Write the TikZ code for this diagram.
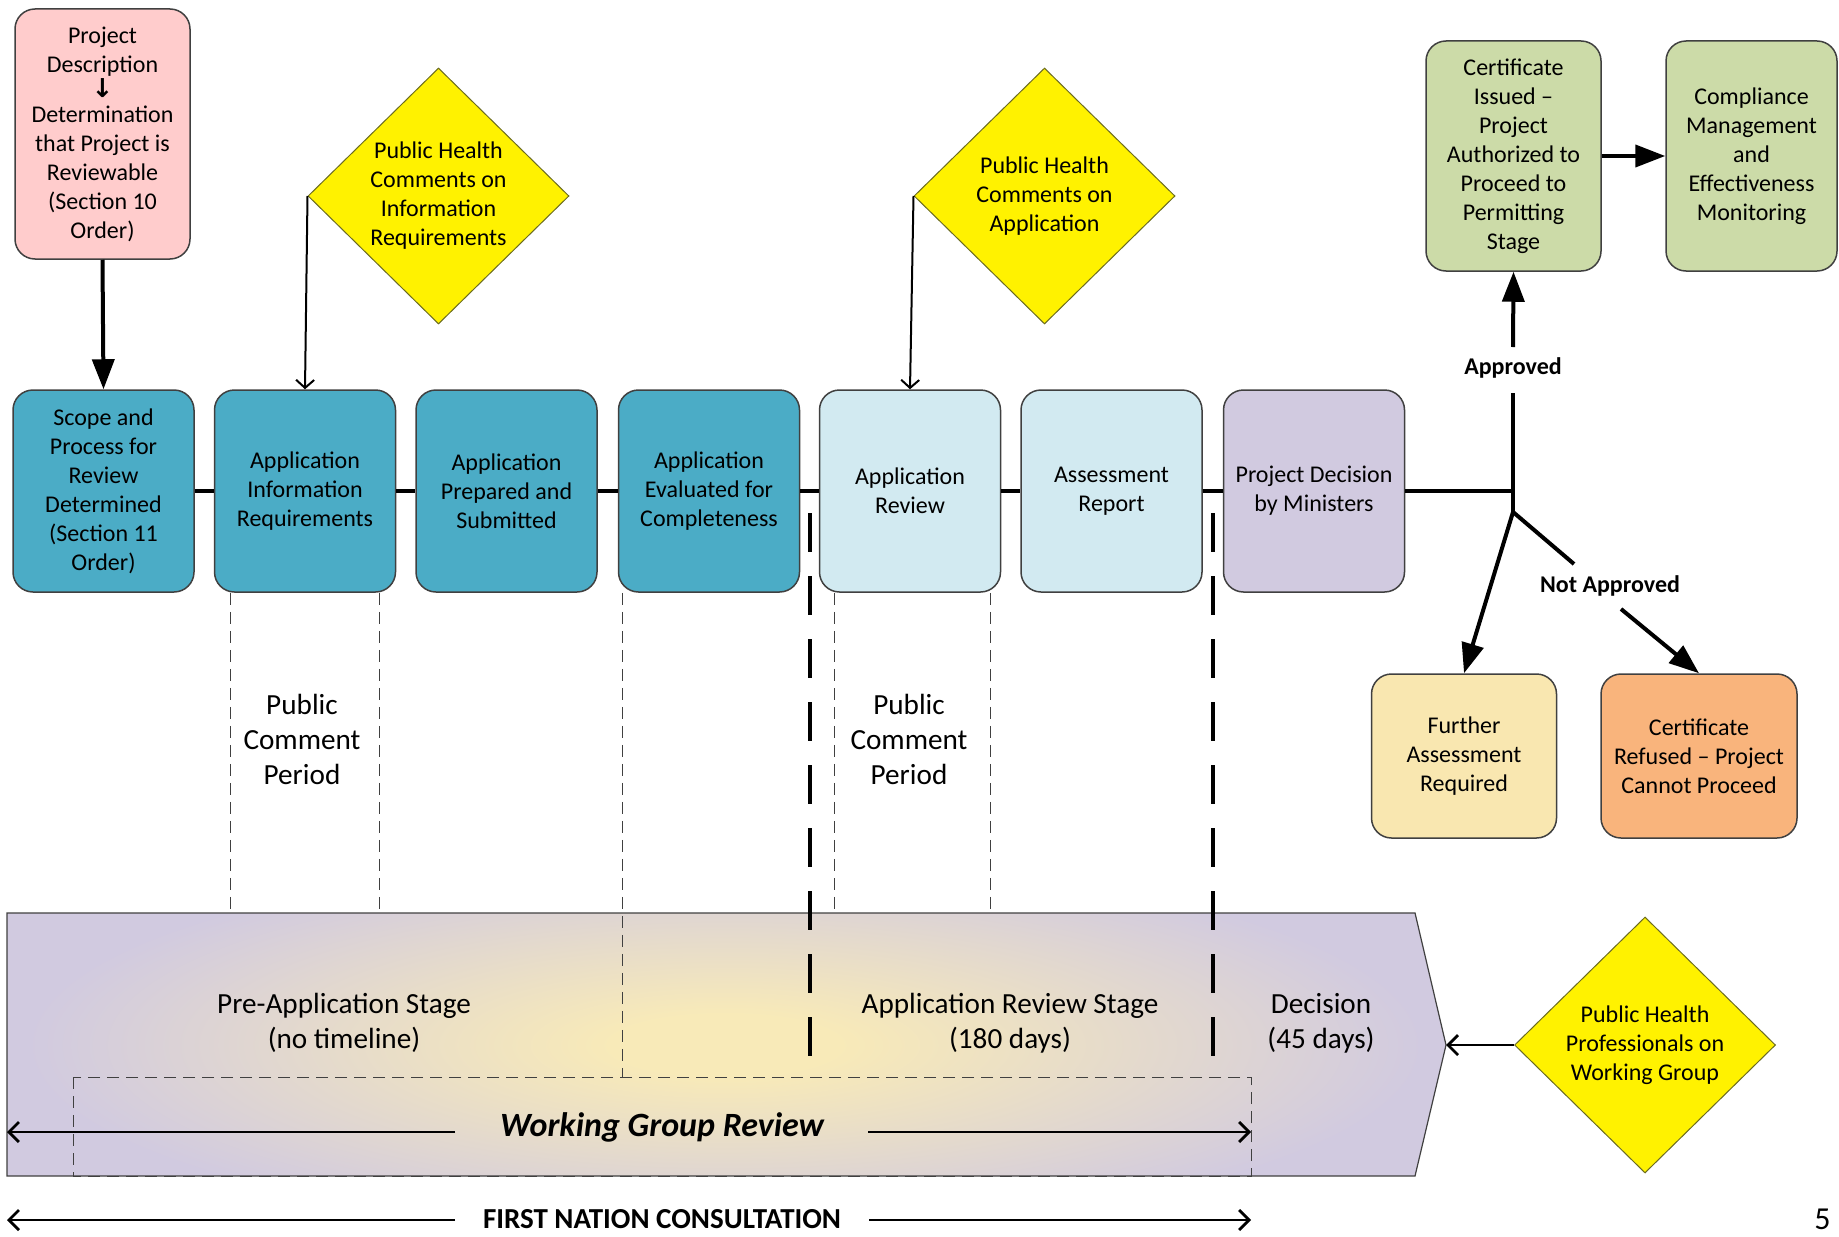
\documentclass[tikz,border=0pt]{standalone}
\usepackage{fontspec}
\setmainfont{Carlito}
\newfontfamily\dejavu{DejaVu Sans}
\usetikzlibrary{shapes.geometric,arrows.meta}

\definecolor{tealbox}{HTML}{4BACC6}
\definecolor{lightbox}{HTML}{D2EAF1}
\definecolor{purplebox}{HTML}{D1CAE0}
\definecolor{pinkbox}{HTML}{FFCCCC}
\definecolor{greenbox}{HTML}{CCDBA8}
\definecolor{paleyellow}{HTML}{F9E7B0}
\definecolor{orangebox}{HTML}{F9B47C}
\definecolor{glowY}{HTML}{F8EAB8}
\definecolor{edgegray}{HTML}{404040}
\definecolor{diaedge}{HTML}{6B6B20}

\pgfdeclareradialshading{bannerglow}{\pgfpoint{0bp}{0bp}}{color(0bp)=(glowY); color(4bp)=(glowY); color(25bp)=(purplebox); color(50bp)=(purplebox)}

\tikzset{
  box/.style={draw=edgegray, line width=0.75pt, rounded corners=10pt,
    minimum width=90.5pt, minimum height=101pt, align=center, inner sep=0pt,
    font=\fontsize{12}{14.5}\selectfont},
  dia/.style={shape=diamond, draw=diaedge, line width=0.5pt, fill=yellow,
    minimum width=130.5pt, minimum height=128pt, inner sep=0pt, align=center,
    font=\fontsize{12}{14.5}\selectfont},
  stagetext/.style={align=center, inner sep=0pt, font=\fontsize{14.6}{17.5}\selectfont},
  lbl/.style={inner sep=0pt, font=\fontsize{12}{14}\selectfont\bfseries},
  thickline/.style={line width=2pt},
  thickarrow/.style={line width=2pt, -{Triangle[length=15pt,width=11pt]}},
  thinarrow/.style={line width=1pt, -{Straight Barb[length=4pt,width=9pt]}},
  openarrow/.style={line width=1.4pt, -{Straight Barb[length=5pt,width=10pt]}},
  thindash/.style={line width=0.5pt, dash pattern=on 6pt off 3.5pt, edgegray},
  bigdash/.style={line width=1.8pt, dash pattern=on 19.5pt off 12pt},
}

\begin{document}
\begin{tikzpicture}[x=0.5pt, y=-0.5pt]
\useasboundingbox (0,0) rectangle (1839,1236);

% ---------- banner ----------
\begin{scope}
\clip (7,913) -- (1415,913) -- (1446,1045) -- (1415,1176) -- (7,1176) -- cycle;
\fill[purplebox] (0,900) rectangle (1460,1190);
\shade[shading=bannerglow] (725,1045) ellipse (700 and 190);
\end{scope}
\draw[edgegray, line width=0.6pt] (7,913) -- (1415,913) -- (1446,1045) -- (1415,1176) -- (7,1176) -- cycle;

% ---------- top nodes ----------
\node[box, fill=pinkbox, minimum width=87.5pt, minimum height=125pt] (pd) at (102.5,134)
  {Project\\Description\\[-2pt]{\dejavu\bfseries\fontsize{13}{12}\selectfont ↓}\\[-2pt]Determination\\that Project is\\Reviewable\\(Section 10\\Order)};

\node[box, fill=tealbox] (b1) at (103.5,491) {Scope and\\Process for\\Review\\Determined\\(Section 11\\Order)};
\node[box, fill=tealbox] (b2) at (305,491) {Application\\Information\\Requirements};
\node[box, fill=tealbox] (b3) at (506.5,491) {Application\\Prepared and\\Submitted};
\node[box, fill=tealbox] (b4) at (709,491) {Application\\Evaluated for\\Completeness};
\node[box, fill=lightbox] (b5) at (910,491) {Application\\Review};
\node[box, fill=lightbox] (b6) at (1111.5,491) {Assessment\\Report};
\node[box, fill=purplebox] (b7) at (1314,491) {Project Decision\\by Ministers};

\node[box, fill=greenbox, minimum width=87.5pt, minimum height=115pt] (g1) at (1513.5,156)
  {Certificate\\Issued –\\Project\\Authorized to\\Proceed to\\Permitting\\Stage};
\node[box, fill=greenbox, minimum width=85.5pt, minimum height=115pt] (g2) at (1751.5,156)
  {Compliance\\Management\\and\\Effectiveness\\Monitoring};
\node[box, fill=paleyellow, minimum width=92.5pt, minimum height=82pt] (further) at (1464,756)
  {Further\\Assessment\\Required};
\node[box, fill=orangebox, minimum width=98pt, minimum height=82pt] (refused) at (1699,756)
  {Certificate\\Refused – Project\\Cannot Proceed};

\node[dia] (ph1) at (438.5,196) {Public Health\\Comments on\\Information\\Requirements};
\node[dia] (ph2) at (1044.5,196) {Public Health\\Comments on\\Application};
\node[dia] (ph3) at (1645,1045) {Public Health\\Professionals on\\Working Group};

% ---------- main line and decision branch ----------
\draw[thickline] (b1.east) -- (b2.west);
\draw[thickline] (b2.east) -- (b3.west);
\draw[thickline] (b3.east) -- (b4.west);
\draw[thickline] (b4.east) -- (b5.west);
\draw[thickline] (b5.east) -- (b6.west);
\draw[thickline] (b6.east) -- (b7.west);

\coordinate (jn) at (1513,491);
\coordinate (split) at (1513,512);
\coordinate (apl) at (1513,393);
\coordinate (apu) at (1513,347);
\coordinate (na1) at (1574,564);
\coordinate (na2) at (1621,609);

\draw[thickline] (b7.east) -- (jn);
\draw[thickline] (apl) -- (split);
\draw[thickarrow] (apu) -- (g1.south);
\draw[thickarrow] (split) -- (further.north);
\draw[thickline] (split) -- (na1);
\draw[thickarrow] (na2) -- (refused.north);
\draw[thickarrow] (g1.east) -- (g2.west);
\draw[thickarrow] (pd.south) -- (b1.north);

\node[lbl] (appr) at (1513,368) {Approved};
\node[lbl] (notappr) at (1610,586) {Not Approved};

\draw[thinarrow] (ph1.west) -- (b2.north);
\draw[thinarrow] (ph2.west) -- (b5.north);

% ---------- dashed guides ----------
\draw[thindash] ([xshift=8.5pt]b2.south west) -- ++(0,321);
\draw[thindash] ([xshift=-8.5pt]b2.south east) -- ++(0,321);
\draw[thindash] ([xshift=8pt]b5.south west) -- ++(0,321);
\draw[thindash] ([xshift=-5.5pt]b5.south east) -- ++(0,321);
\draw[thindash] ([xshift=2.5pt]b4.south west) -- ++(0,485);
\draw[thindash] (73,1077) rectangle (1251,1176);

\coordinate (d1t) at (810,513);
\coordinate (d1b) at (810,1057);
\coordinate (d2t) at (1213,513);
\coordinate (d2b) at (1213,1057);
\draw[bigdash] (d1t) -- (d1b);
\draw[bigdash] (d2t) -- (d2b);

% ---------- texts ----------
\node[stagetext] (pcp1) at (302,739) {Public\\Comment\\Period};
\node[stagetext] (pcp2) at (909,739) {Public\\Comment\\Period};
\node[stagetext] (pre) at (344,1023) {Pre-Application Stage\\(no timeline)};
\node[stagetext] (ars) at (1010,1023) {Application Review Stage\\(180 days)};
\node[stagetext] (dec) at (1321,1023) {Decision\\(45 days)};

% ---------- working group / first nation ----------
\node[inner sep=0pt, font=\fontsize{17}{20}\selectfont\bfseries\itshape] (wgr) at (662,1127) {Working Group Review};
\coordinate (wga) at (455,1132);
\coordinate (wgb) at (868,1132);
\coordinate (wgL) at (7,1132);
\coordinate (wgR) at (1251,1132);
\draw[openarrow] (wga) -- (wgL);
\draw[openarrow] (wgb) -- (wgR);

\node[inner sep=0pt, font=\fontsize{14.5}{17}\selectfont\bfseries] (fn) at (662,1219) {FIRST NATION CONSULTATION};
\coordinate (fna) at (455,1220);
\coordinate (fnb) at (869,1220);
\coordinate (fnL) at (7,1220);
\coordinate (fnR) at (1251,1220);
\draw[openarrow] (fna) -- (fnL);
\draw[openarrow] (fnb) -- (fnR);

\coordinate (tip) at (1446,1045);
\draw[openarrow] (ph3.west) -- (tip);

\node[inner sep=0pt, anchor=base east, font=\fontsize{16}{18}\selectfont] (pg) at (1831,1229) {5};
\end{tikzpicture}
\end{document}
